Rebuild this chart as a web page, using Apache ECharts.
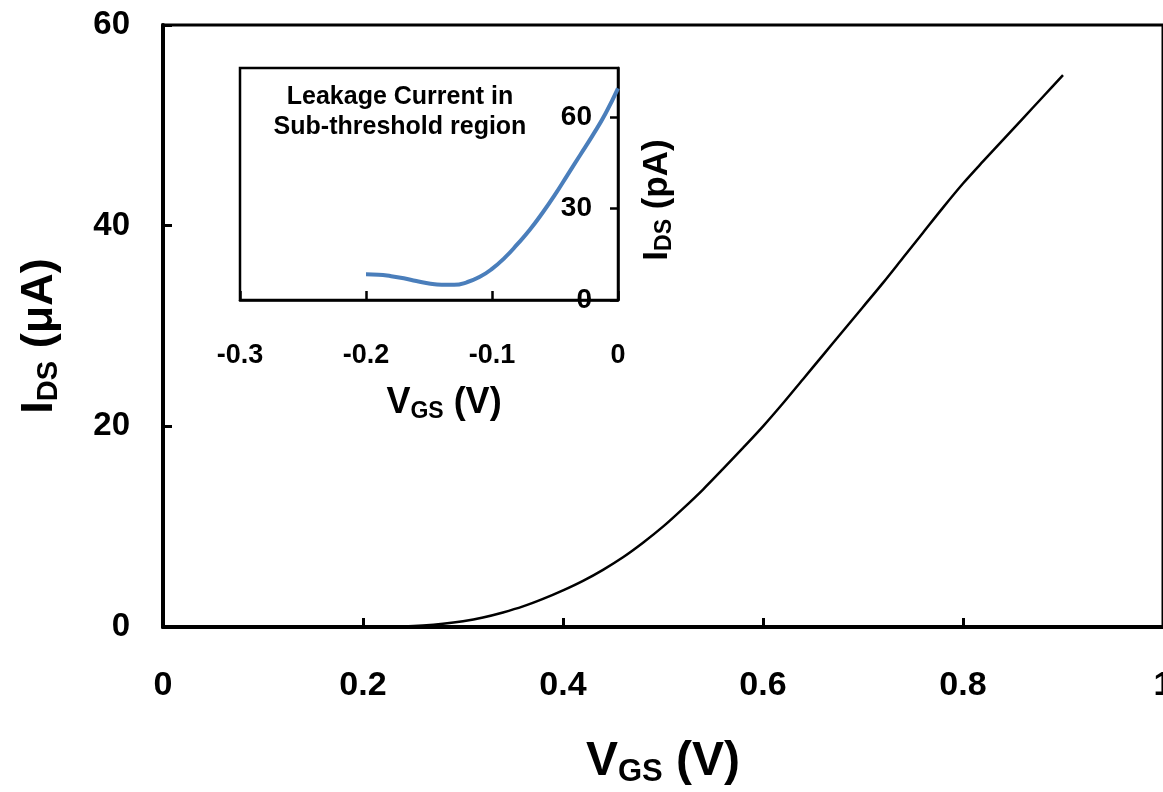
<!DOCTYPE html>
<html>
<head>
<meta charset="utf-8">
<title>IDS vs VGS</title>
<script src="https://cdn.jsdelivr.net/npm/echarts@6/dist/echarts.min.js"></script>
<style>
  html, body { margin: 0; padding: 0; background: #fff; }
  #chart { width: 1163px; height: 792px; }
</style>
</head>
<body>
<div id="chart"></div>
<script>
// main curve, I_DS (uA) against V_GS (V)
var vgs = [0.22, 0.24, 0.26, 0.28, 0.30, 0.32, 0.34, 0.36, 0.38, 0.40, 0.42, 0.44, 0.46, 0.48,
           0.50, 0.52, 0.54, 0.56, 0.58, 0.60, 0.62, 0.64, 0.66, 0.68, 0.70, 0.72, 0.74, 0.76,
           0.78, 0.80, 0.82, 0.84, 0.86, 0.88, 0.90];
var ids = [0.0, 0.05, 0.15, 0.32, 0.58, 0.95, 1.45, 2.05, 2.8, 3.65, 4.6, 5.7, 6.95, 8.4,
           10.0, 11.8, 13.7, 15.75, 17.85, 20.0, 22.3, 24.7, 27.1, 29.5, 31.9, 34.3, 36.8, 39.3,
           41.8, 44.2, 46.4, 48.55, 50.7, 52.85, 55.0];

// inset, leakage current I_DS (pA) in the sub-threshold region
var vgsSub = [-0.20, -0.19, -0.18, -0.17, -0.16, -0.15, -0.14, -0.13, -0.12, -0.11, -0.10,
              -0.09, -0.08, -0.07, -0.06, -0.05, -0.04, -0.03, -0.02, -0.01, 0.00];
var idsSub = [8.4, 8.3, 7.8, 7.1, 6.2, 5.4, 5.0, 5.0, 5.8, 7.5, 10.2,
              13.8, 18.2, 23.0, 28.5, 34.5, 41.0, 47.5, 54.0, 61.0, 69.3];

var insetTitle = ['Leakage Current in', 'Sub-threshold region'];

var bold = 'Liberation Sans, Arial, sans-serif';

function pairs(xs, ys) {
    var out = [];
    for (var i = 0; i < xs.length; i++) {
        out.push([xs[i], ys[i]]);
    }
    return out;
}

var chart = echarts.init(document.getElementById('chart'));

var option = {
    animation: false,
    backgroundColor: '#fff',
    title: {
        text: insetTitle.join('\n'),
        left: 395,
        top: 77,
        textAlign: 'center',
        textStyle: {
            fontFamily: bold,
            fontWeight: 'bold',
            fontSize: 25,
            lineHeight: 30,
            color: '#000'
        }
    },
    grid: [{
        left: 163, top: 25, right: 0, bottom: 165,
        outerBoundsMode: 'none',
        show: true,
        borderColor: '#000',
        borderWidth: 3
    }, {
        left: 240, top: 68, width: 378, height: 232,
        outerBoundsMode: 'none',
        show: true,
        backgroundColor: '#fff',
        borderColor: '#000',
        borderWidth: 2.5
    }],
    xAxis: [{
        type: 'value',
        gridIndex: 0,
        min: 0, max: 1, interval: 0.2,
        name: '{b|V}{s|GS}{b| (V)}',
        nameLocation: 'middle',
        nameGap: 108,
        nameTextStyle: {
            rich: {
                b: { fontFamily: bold, fontWeight: 'bold', fontSize: 48, color: '#000' },
                s: { fontFamily: bold, fontWeight: 'bold', fontSize: 31, color: '#000', padding: [22, 0, 0, 0] }
            }
        },
        splitLine: { show: false },
        axisLine: { lineStyle: { color: '#000', width: 4 } },
        axisTick: { inside: true, length: 9, lineStyle: { color: '#000', width: 3 } },
        axisLabel: {
            margin: 42,
            fontFamily: bold, fontWeight: 'bold', fontSize: 34, color: '#000'
        }
    }, {
        type: 'value',
        gridIndex: 1,
        min: -0.3, max: 0, interval: 0.1,
        name: '{b|V}{s|GS}{b| (V)}',
        nameLocation: 'middle',
        nameGap: 84,
        nameTextStyle: {
            padding: [0, 0, 0, 30],
            rich: {
                b: { fontFamily: bold, fontWeight: 'bold', fontSize: 36, color: '#000' },
                s: { fontFamily: bold, fontWeight: 'bold', fontSize: 23, color: '#000', padding: [16, 0, 0, 0] }
            }
        },
        splitLine: { show: false },
        axisLine: { lineStyle: { color: '#000', width: 2.5 } },
        axisTick: { inside: true, length: 9, lineStyle: { color: '#000', width: 2.5 } },
        axisLabel: {
            margin: 42,
            fontFamily: bold, fontWeight: 'bold', fontSize: 27, color: '#000'
        }
    }],
    yAxis: [{
        type: 'value',
        gridIndex: 0,
        min: 0, max: 60, interval: 20,
        name: '{b|I}{s|DS}{b| (μA)}',
        nameLocation: 'middle',
        nameRotate: 90,
        nameGap: 100,
        nameTextStyle: {
            padding: [0, 20, 0, 0],
            rich: {
                b: { fontFamily: bold, fontWeight: 'bold', fontSize: 45, color: '#000' },
                s: { fontFamily: bold, fontWeight: 'bold', fontSize: 29, color: '#000', padding: [18, 0, 0, 0] }
            }
        },
        splitLine: { show: false },
        axisLine: { lineStyle: { color: '#000', width: 4 } },
        axisTick: { inside: true, length: 9, lineStyle: { color: '#000', width: 3 } },
        axisLabel: {
            margin: 33,
            fontFamily: bold, fontWeight: 'bold', fontSize: 33, color: '#000'
        }
    }, {
        type: 'value',
        gridIndex: 1,
        position: 'right',
        min: 0, max: 76, interval: 30,
        name: '{b|I}{s|DS}{b| (pA)}',
        nameLocation: 'middle',
        nameRotate: 90,
        nameGap: 20,
        nameTextStyle: {
            padding: [0, 32, 0, 0],
            rich: {
                b: { fontFamily: bold, fontWeight: 'bold', fontSize: 35, color: '#000' },
                s: { fontFamily: bold, fontWeight: 'bold', fontSize: 23, color: '#000', padding: [15, 0, 0, 0] }
            }
        },
        splitLine: { show: false },
        axisLine: { lineStyle: { color: '#000', width: 2.5 } },
        axisTick: { inside: true, length: 8, lineStyle: { color: '#000', width: 2.5 } },
        axisLabel: {
            inside: true,
            margin: 26,
            showMaxLabel: false,
            fontFamily: bold, fontWeight: 'bold', fontSize: 28, color: '#000'
        }
    }],
    series: [{
        type: 'line',
        xAxisIndex: 0,
        yAxisIndex: 0,
        data: pairs(vgs, ids),
        smooth: 0.3,
        showSymbol: false,
        symbol: 'none',
        lineStyle: { color: '#000', width: 2.5 }
    }, {
        type: 'line',
        xAxisIndex: 1,
        yAxisIndex: 1,
        data: pairs(vgsSub, idsSub),
        smooth: true,
        showSymbol: false,
        symbol: 'none',
        lineStyle: { color: '#4a7ebb', width: 4 }
    }]
};

chart.setOption(option);
</script>
</body>
</html>
